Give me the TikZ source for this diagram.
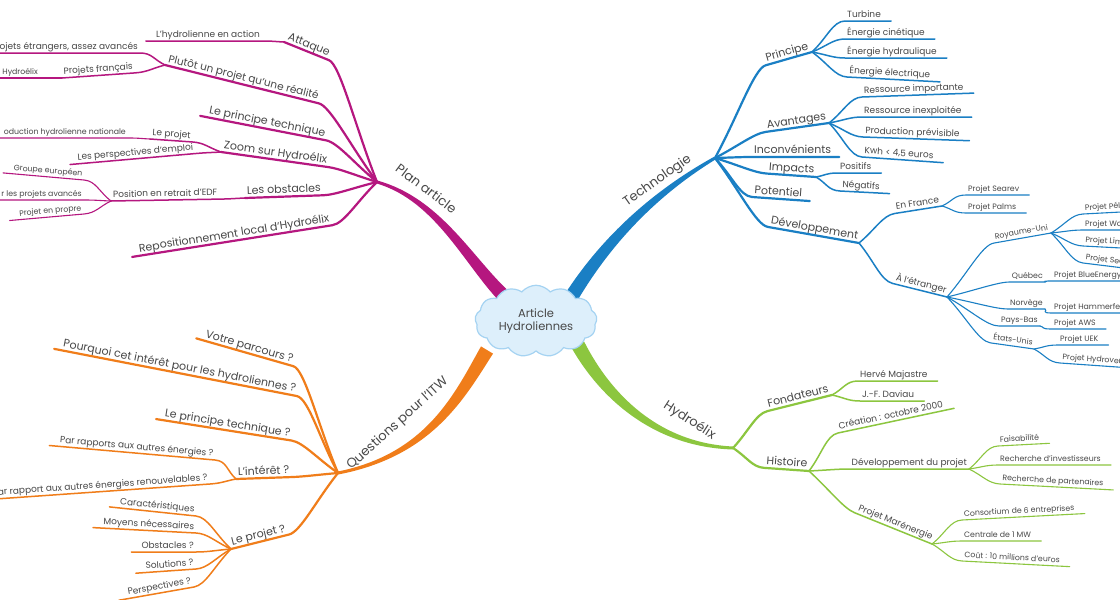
\documentclass[tikz,border=0pt]{standalone}
\usepackage{fontspec}
\setmainfont{Poppins}
\usetikzlibrary{calc,shapes.symbols}
\definecolor{planc}{HTML}{B5177F}
\definecolor{techc}{HTML}{1A7FC4}
\definecolor{hydroc}{HTML}{8CC63F}
\definecolor{itwc}{HTML}{F07D1A}
\definecolor{inkc}{HTML}{484848}
\definecolor{cloudc}{HTML}{DDEFFB}
\definecolor{cloudl}{HTML}{A5D3F2}

\tikzset{
  lbl/.style={inner xsep=2pt, inner ysep=2pt, text=inkc, text depth=.25ex},
  main/.style={lbl, font=\fontsize{13}{15}\selectfont},
  lvone/.style={lbl, font=\fontsize{11}{13}\selectfont},
  lvtwo/.style={lbl, font=\fontsize{9}{11}\selectfont},
  lvthree/.style={lbl, font=\fontsize{7.8}{9}\selectfont},
  wone/.style={line width=2.2pt, line cap=round},
  wtwo/.style={line width=1.5pt, line cap=round},
  wthree/.style={line width=1.1pt, line cap=round},
}

% tapered main branch: junction, two controls, end under the cloud
\newcommand\trunk[5]{%
  \fill[#1] ($(#2)!1.5pt!90:(#3)$) .. controls ($(#3)!3pt!90:(#4)$) and ($(#4)!5.5pt!90:(#5)$) .. ($(#5)!7pt!-90:(#4)$)
    -- ($(#5)!7pt!90:(#4)$) .. controls ($(#4)!5.5pt!-90:(#5)$) and ($(#3)!3pt!-90:(#4)$) .. ($(#2)!1.5pt!-90:(#3)$) -- cycle;}
% branch to a label, then under it; optional overshoot past its far end
\newcommand\twigR[4][0pt]{%
  \draw[#2] (#3) .. controls ($(#3)!.45!(#4.south west)$) and ($(#4.south west)!-12pt!(#4.south east)$) .. (#4.south west)
    -- ($(#4.south east)!-#1!(#4.south west)$);}
\newcommand\twigL[4][0pt]{%
  \draw[#2] (#3) .. controls ($(#3)!.45!(#4.south east)$) and ($(#4.south east)!-12pt!(#4.south west)$) .. (#4.south east)
    -- ($(#4.south west)!-#1!(#4.south east)$);}

\begin{document}
\begin{tikzpicture}[x=1pt, y=-1pt]
  \fill[white] (0,0) rectangle (1120,600);
  \useasboundingbox (0,0) rectangle (1120,600);
  \clip (0,0) rectangle (1120,600);

  % Plan article
  \coordinate (jplan) at (377,182);
  \coordinate (cp1) at (440,200);
  \coordinate (cp2) at (470,265);
  \coordinate (aplan) at (508,300);
  \trunk{planc}{jplan}{cp1}{cp2}{aplan}
  \node[main, rotate=-37] (plan) at (426,189) {Plan article};

  \node[lvone, anchor=south west, rotate=-22] (att) at (284,42) {Attaque};
  \twigL{planc,wone}{jplan}{att}
  \node[lvtwo, anchor=south east] (act) at (262,41) {L'hydrolienne en action};
  \twigL[8pt]{planc,wtwo}{att.south west}{act}

  \node[lvone, anchor=south west, rotate=-14, font=\fontsize{10.5}{12}\selectfont] (plut) at (165,65) {Plutôt un projet qu'une réalité};
  \twigL{planc,wone}{jplan}{plut}
  \node[lvtwo, anchor=south east] (etr) at (140,53) {ojets étrangers, assez avancés};
  \twigL[8pt]{planc,wtwo}{plut.south west}{etr}
  \node[lvtwo, anchor=south west, rotate=4] (fra) at (62,78) {Projets français};
  \twigL{planc,wtwo}{plut.south west}{fra}
  \node[lvthree, anchor=south east] (hfr) at (40,78) {Hydroélix};
  \twigL[8pt]{planc,wthree}{fra.south west}{hfr}

  \node[lvone, anchor=south west, rotate=-11] (prt) at (206,117) {Le principe technique};
  \twigL[6pt]{planc,wone}{jplan}{prt}

  \node[lvone, anchor=south west, rotate=-8] (zoom) at (221,152) {Zoom sur Hydroélix};
  \twigL{planc,wone}{jplan}{zoom}
  \node[lvtwo, anchor=south west, rotate=-4] (proj) at (150,139) {Le projet};
  \twigL{planc,wtwo}{zoom.south west}{proj}
  \node[lvthree, anchor=south east] (nat) at (128,138) {oduction hydrolienne nationale};
  \twigL[8pt]{planc,wthree}{proj.south west}{nat}
  \node[lvtwo, anchor=south west, rotate=5] (emp) at (76,164) {Les perspectives d'emploi};
  \twigL[6pt]{planc,wtwo}{zoom.south west}{emp}

  \node[lvone, anchor=south west, rotate=2] (obs) at (245,198) {Les obstacles};
  \twigL{planc,wone}{jplan}{obs}
  \node[lvtwo, anchor=south west, rotate=1] (edf) at (111,201) {Position en retrait d'EDF};
  \twigL{planc,wtwo}{obs.south west}{edf}
  \node[lvthree, anchor=south east, rotate=-5] (grp) at (84,180) {Groupe européen};
  \node[lvthree, anchor=south east] (avc) at (84,200) {r les projets avancés};
  \node[lvthree, anchor=south east, rotate=5] (prp) at (84,214) {Projet en propre};
  \foreach \n in {grp,avc,prp} {\twigL[8pt]{planc,wthree}{edf.south west}{\n}}

  \node[lvone, anchor=south west, rotate=9] (rep) at (138,256) {Repositionnement local d'Hydroélix};
  \twigL[6pt]{planc,wone}{jplan}{rep}

  % Technologie
  \coordinate (jtech) at (715,158);
  \coordinate (ct1) at (660,190);
  \coordinate (ct2) at (610,235);
  \coordinate (atech) at (572,296);
  \trunk{techc}{jtech}{ct1}{ct2}{atech}
  \node[main, rotate=35] (tech) at (657,180) {Technologie};

  \node[lvone, anchor=south east, rotate=16] (pri) at (812,52) {Principe};
  \twigR{techc,wone}{jtech}{pri}
  \node[lvtwo, anchor=south west] (tur) at (845,21) {Turbine};
  \node[lvtwo, anchor=south west] (cin) at (845,39) {Énergie cinétique};
  \node[lvtwo, anchor=south west] (ehyd) at (845,58) {Énergie hydraulique};
  \node[lvtwo, anchor=south west, rotate=-3] (ele) at (847,77) {Énergie électrique};
  \foreach \n in {tur,cin,ehyd,ele} {\twigR[8pt]{techc,wtwo}{pri.south east}{\n}}

  \node[lvone, anchor=south east, rotate=8] (ava) at (829,123) {Avantages};
  \twigR{techc,wone}{jtech}{ava}
  \node[lvtwo, anchor=south west, rotate=2] (rimp) at (862,97) {Ressource importante};
  \node[lvtwo, anchor=south west] (rinx) at (862,117) {Ressource inexploitée};
  \node[lvtwo, anchor=south west, rotate=-2] (prev) at (863,137) {Production prévisible};
  \node[lvtwo, anchor=south west, rotate=-4] (kwh) at (862,157) {Kwh < 4,5 euros};
  \foreach \n in {rimp,rinx,prev,kwh} {\twigR[8pt]{techc,wtwo}{ava.south east}{\n}}

  \node[lvone, anchor=south west] (inc) at (752,157) {Inconvénients};
  \twigR[6pt]{techc,wone}{jtech}{inc}

  \node[lvone, anchor=south east, rotate=-4] (imp) at (816,177) {Impacts};
  \twigR{techc,wone}{jtech}{imp}
  \node[lvtwo, anchor=south west] (pos) at (838,173) {Positifs};
  \node[lvtwo, anchor=south west, rotate=-3] (neg) at (840,191) {Négatifs};
  \foreach \n in {pos,neg} {\twigR[8pt]{techc,wtwo}{imp.south east}{\n}}

  \node[lvone, anchor=south west, rotate=-4] (pot) at (752,197) {Potentiel};
  \twigR[6pt]{techc,wone}{jtech}{pot}

  \node[lvone, anchor=south east, rotate=-10] (dev) at (859,243) {Développement};
  \twigR{techc,wone}{jtech}{dev}
  \node[lvtwo, anchor=south east, rotate=9] (fr) at (942,206) {En France};
  \twigR{techc,wtwo}{dev.south east}{fr}
  \node[lvthree, anchor=south west] (sea) at (966,195) {Projet Searev};
  \node[lvthree, anchor=south west] (pal) at (966,213) {Projet Palms};
  \foreach \n in {sea,pal} {\twigR[8pt]{techc,wthree}{fr.south east}{\n}}

  \node[lvtwo, anchor=south east, rotate=-14] (etg) at (947,297) {À l'étranger};
  \twigR{techc,wtwo}{dev.south east}{etg}
  \node[lvthree, anchor=south east, rotate=10] (ruk) at (1051,233) {Royaume-Uni};
  \node[lvthree, anchor=south east] (qc) at (1045,282) {Québec};
  \node[lvthree, anchor=south east] (nor) at (1045,309) {Norvège};
  \node[lvthree, anchor=south east] (pb) at (1040,326) {Pays-Bas};
  \node[lvthree, anchor=south east, rotate=-8] (usa) at (1034,349) {États-Unis};
  \foreach \n in {ruk,qc,nor,pb,usa} {\twigR{techc,wthree}{etg.south east}{\n}}
  \node[lvthree, anchor=south west, rotate=3] (pel) at (1083,214) {Projet Pél};
  \node[lvthree, anchor=south west] (wo) at (1083,230) {Projet Wo};
  \node[lvthree, anchor=south west, rotate=-3] (lim) at (1083,246) {Projet Lim};
  \node[lvthree, anchor=south west, rotate=-7] (sec) at (1083,263) {Projet Sea};
  \foreach \n in {pel,wo,lim,sec} {\twigR[8pt]{techc,wthree}{ruk.south east}{\n}}
  \node[lvthree, anchor=south west] (blue) at (1052,281) {Projet BlueEnergy};
  \twigR[8pt]{techc,wthree}{qc.south east}{blue}
  \node[lvthree, anchor=south west] (ham) at (1052,313) {Projet Hammerfes};
  \twigR[8pt]{techc,wthree}{nor.south east}{ham}
  \node[lvthree, anchor=south west] (aws) at (1052,329) {Projet AWS};
  \twigR[8pt]{techc,wthree}{pb.south east}{aws}
  \node[lvthree, anchor=south west] (uek) at (1058,345) {Projet UEK};
  \node[lvthree, anchor=south west, rotate=-4] (hven) at (1060,363) {Projet Hydroven};
  \foreach \n in {uek,hven} {\twigR[8pt]{techc,wthree}{usa.south east}{\n}}

  % Hydroélix
  \coordinate (jhyd) at (733,448);
  \coordinate (ch1) at (655,445);
  \coordinate (ch2) at (605,395);
  \coordinate (ahyd) at (578,345);
  \trunk{hydroc}{jhyd}{ch1}{ch2}{ahyd}
  \node[main, rotate=-33] (hydro) at (690,420) {Hydroélix};

  \node[lvone, anchor=south east, rotate=14] (fon) at (832,395) {Fondateurs};
  \twigR{hydroc,wone}{jhyd}{fon}
  \node[lvtwo, anchor=south west] (maj) at (858,381) {Hervé Majastre};
  \node[lvtwo, anchor=south west] (dav) at (860,401) {J.-F. Daviau};
  \foreach \n in {maj,dav} {\twigR[8pt]{hydroc,wtwo}{fon.south east}{\n}}

  \node[lvone, anchor=south east, rotate=-4] (his) at (809,471) {Histoire};
  \twigR{hydroc,wone}{jhyd}{his}
  \node[lvtwo, anchor=south west, rotate=12] (cre) at (838,433) {Création : octobre 2000};
  \twigR[8pt]{hydroc,wtwo}{his.south east}{cre}
  \node[lvtwo, anchor=south east] (dvp) at (969,469) {Développement du projet};
  \twigR{hydroc,wtwo}{his.south east}{dvp}
  \node[lvthree, anchor=south west, rotate=3] (fai) at (998,446) {Faisabilité};
  \node[lvthree, anchor=south west] (inv) at (998,465) {Recherche d'investisseurs};
  \node[lvthree, anchor=south west, rotate=-3] (par) at (1000,484) {Recherche de partenaires};
  \foreach \n in {fai,inv,par} {\twigR[8pt]{hydroc,wthree}{dvp.south east}{\n}}
  \node[lvtwo, anchor=south east, rotate=-22] (mar) at (932,544) {Projet Marénergie};
  \twigR{hydroc,wtwo}{his.south east}{mar}
  \node[lvthree, anchor=south west, rotate=3] (con) at (962,520) {Consortium de 6 entreprises};
  \node[lvthree, anchor=south west] (cen) at (962,541) {Centrale de 1 MW};
  \node[lvthree, anchor=south west, rotate=-3] (cou) at (962,561) {Coût : 10 millions d'euros};
  \foreach \n in {con,cen,cou} {\twigR[8pt]{hydroc,wthree}{mar.south east}{\n}}

  % Questions pour l'ITW
  \coordinate (jq) at (338,473);
  \coordinate (cq1) at (430,455);
  \coordinate (cq2) at (460,395);
  \coordinate (aq) at (487,350);
  \trunk{itwc}{jq}{cq1}{cq2}{aq}
  \node[main, rotate=42] (itw) at (397,423) {Questions pour l'ITW};

  \node[lvone, anchor=south west, rotate=-16] (vot) at (202,340) {Votre parcours ?};
  \node[lvone, anchor=south west, rotate=-11] (pqi) at (60,350) {Pourquoi cet intérêt pour les hydroliennes ?};
  \node[lvone, anchor=south west, rotate=-9] (qpt) at (162,420) {Le principe technique ?};
  \foreach \n in {vot,pqi,qpt} {\twigL[6pt]{itwc,wone}{jq}{\n}}

  \node[lvone, anchor=south west, rotate=2] (int) at (236,479) {L'intérêt ?};
  \twigL{itwc,wone}{jq}{int}
  \node[lvtwo, anchor=south east, rotate=-5] (aen) at (215,460) {Par rapports aux autres énergies ?};
  \node[lvtwo, anchor=south east, rotate=4] (ren) at (210,484) {ar rapport aux autres énergies renouvelables ?};
  \foreach \n in {aen,ren} {\twigL[8pt]{itwc,wtwo}{int.south west}{\n}}

  \node[lvone, anchor=south west, rotate=14] (lpq) at (231,549) {Le projet ?};
  \twigL{itwc,wone}{jq}{lpq}
  \node[lvtwo, anchor=south east, rotate=-6] (car) at (196,516) {Caractéristiques};
  \node[lvtwo, anchor=south east, rotate=-3] (moy) at (196,533) {Moyens nécessaires};
  \node[lvtwo, anchor=south east] (obq) at (196,552) {Obstacles ?};
  \node[lvtwo, anchor=south east, rotate=4] (sol) at (196,569) {Solutions ?};
  \node[lvtwo, anchor=south east, rotate=10] (per) at (194,587) {Perspectives ?};
  \foreach \n in {car,moy,obq,sol,per} {\twigL[8pt]{itwc,wtwo}{lpq.south west}{\n}}

  % centre
  \node[cloud, cloud puffs=13, cloud puff arc=100, aspect=1.9, minimum width=122pt, minimum height=66pt,
        fill=cloudc, draw=cloudl, line width=1.2pt, align=center, text=inkc,
        font=\fontsize{11.5}{13.5}\selectfont] (hub) at (536,321) {Article\\Hydroliennes};
\end{tikzpicture}
\end{document}
